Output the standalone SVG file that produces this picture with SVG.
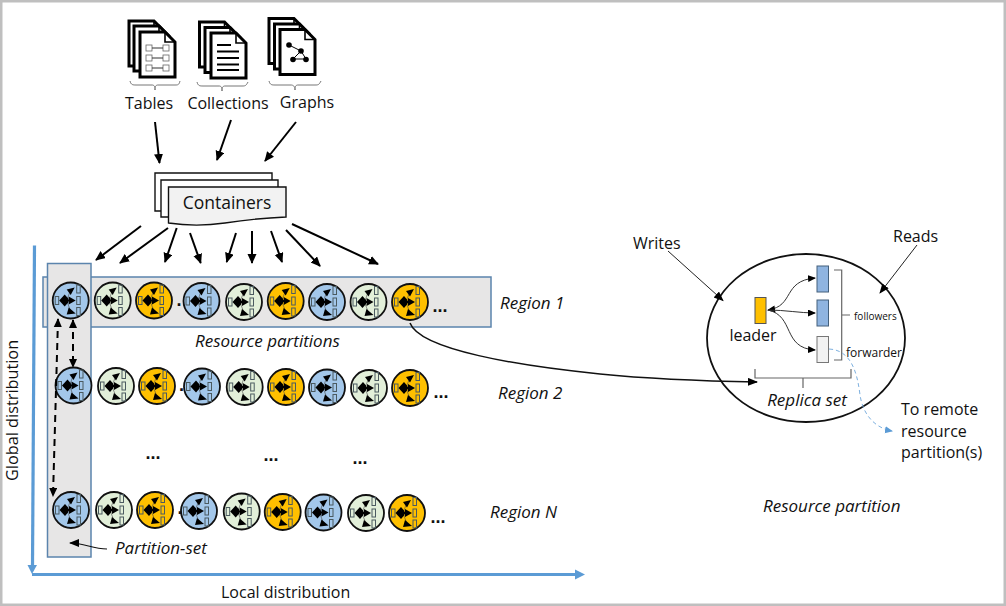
<svg xmlns="http://www.w3.org/2000/svg" width="1006" height="606" viewBox="0 0 1006 606">
<style>
text{font-family:"Open Sans","Noto Sans","Liberation Sans",sans-serif;fill:#111}
.i{font-style:italic}
.m{text-anchor:middle}
.dots{font-family:"Liberation Sans",sans-serif;font-weight:bold;font-size:18px;text-anchor:middle}
.blue{fill:#A3C7EA}.green{fill:#E2EFD9}.orange{fill:#FFC000}
.pc{stroke:#111;stroke-width:1.8}
.r{fill:none;stroke:#4b5a60;stroke-width:1}
.l{fill:none;stroke:#444;stroke-width:.6}
.a{fill:#000;stroke:none}
.doc{fill:#fff;stroke:#000;stroke-width:3}
.doc2{fill:none;stroke:#000;stroke-width:1.600}
.brace{fill:none;stroke:#777;stroke-width:1}
.band{fill:#E7E6E6;stroke:#5B84AD;stroke-width:1.5}
.arr{fill:none;stroke:#000;stroke-width:2;marker-end:url(#ah)}
.thin{fill:none;stroke:#222;stroke-width:1;marker-end:url(#ahs)}
.dash{fill:none;stroke:#000;stroke-width:2;stroke-dasharray:7 5;marker-start:url(#ahsb);marker-end:url(#ahs2)}
.cont{fill:#fff;stroke:#111;stroke-width:1.4}
</style>
<defs>
<marker id="ah" markerUnits="userSpaceOnUse" markerWidth="12" markerHeight="10" refX="9" refY="4.500" orient="auto"><path d="M0,0L10,4.500L0,9z" fill="#000"/></marker>
<marker id="ahs" markerUnits="userSpaceOnUse" markerWidth="12" markerHeight="10" refX="9" refY="4" orient="auto"><path d="M0,0L10,4L0,8z" fill="#000"/></marker>
<marker id="ahs2" markerUnits="userSpaceOnUse" markerWidth="12" markerHeight="10" refX="8" refY="4" orient="auto"><path d="M0,0L9,4L0,8z" fill="#000"/></marker>
<marker id="ahsb" markerUnits="userSpaceOnUse" markerWidth="12" markerHeight="10" refX="1" refY="4" orient="auto"><path d="M9,0L0,4L9,8z" fill="#000"/></marker>
<marker id="ahb" markerUnits="userSpaceOnUse" markerWidth="10" markerHeight="8" refX="7" refY="3.500" orient="auto"><path d="M0,0L8,3.500L0,7z" fill="#5B9BD5"/></marker>
<marker id="aha" markerUnits="userSpaceOnUse" markerWidth="10" markerHeight="8" refX="7" refY="3.500" orient="auto"><path d="M0,0L8,3.500L0,7z" fill="#000"/></marker>
<marker id="ahar" markerUnits="userSpaceOnUse" markerWidth="10" markerHeight="8" refX="1" refY="3.500" orient="auto"><path d="M8,0L0,3.500L8,7z" fill="#000"/></marker>
<g id="part">
<circle class="pc" r="18"/>
<rect class="r" x="-15.500" y="-4" width="3.500" height="8"/>
<rect class="r" x="6" y="-15.500" width="3.500" height="8"/>
<rect class="r" x="6" y="-4" width="3.500" height="8"/>
<rect class="r" x="6" y="7" width="3.500" height="8"/>
<path class="l" d="M-5,0C-2,-2-2,-9 1,-10M-5,0C-2,2-2,9 1,11"/>
<path class="a" d="M-11.500,0L-6,-6L-2.500,-2V2L-6,6z"/>
<path class="a" d="M-3,-1H0V1H-3z"/>
<path class="a" d="M-2,-4L5,0L-2,4z"/>
<path class="a" d="M-4,-11L4,-13L0,-5.500z"/>
<path class="a" d="M-2,7L5,13L-4,14z"/>
</g>
<g id="doc">
<path class="doc" d="M0,0H25L35,10V45H0z"/>
<path class="doc2" d="M25,0V10H35"/>
</g>
</defs>
<rect x="1.250" y="1.250" width="1003.500" height="603.500" fill="#fff" stroke="#BFBFBF" stroke-width="2.500"/>

<g id="node-tables">
<use href="#doc" x="129" y="21"/><use href="#doc" x="134" y="26"/><use href="#doc" x="140" y="32"/>
<g fill="#fff" stroke="#666" stroke-width=".8"><rect x="146" y="45" width="6" height="6"/><rect x="163" y="45" width="6" height="6"/><rect x="146" y="55" width="6" height="6"/><rect x="163" y="55" width="6" height="6"/><rect x="146" y="65" width="6" height="6"/><rect x="163" y="65" width="6" height="6"/></g>
<path d="M152,48H163M152,58H163M152,68H163" stroke="#333" stroke-width="1"/>
<path class="brace" d="M130,81C131,85 133,85 136,85H152C154,85 155,86 155,90C155,86 156,85 158,85H175C178,85 179,85 180,81"/>
<text class="m" x="149" y="109" font-size="16">Tables</text>
</g>
<g id="node-collections">
<use href="#doc" x="199.500" y="22"/><use href="#doc" x="205" y="27.500"/><use href="#doc" x="211" y="33"/>
<path d="M217,45H231M217,51.500H239M217,58H239M217,64.500H239M217,70H239" stroke="#000" stroke-width="1.800"/>
<path class="brace" d="M197,82C198,86 200,86 203,86H219C221,86 222,87 222,91C222,87 223,86 225,86H242C245,86 246,86 248,82"/>
<text class="m" x="228" y="109" font-size="16">Collections</text>
</g>
<g id="node-graphs">
<use href="#doc" x="269" y="18.500"/><use href="#doc" x="274.500" y="24"/><use href="#doc" x="280" y="29.500"/>
<path d="M289,45L301,51L293,59H306L301,51" fill="none" stroke="#000" stroke-width="1"/>
<g fill="#000"><circle cx="289" cy="45" r="2.800"/><circle cx="301" cy="51" r="2.800"/><circle cx="293" cy="59.500" r="2.800"/><circle cx="306" cy="59.500" r="2.800"/></g>
<path class="brace" d="M269,81C270,85 272,85 275,85H291C293,85 295,86 295,90C295,86 296,85 298,85H315C318,85 319,85 321,81"/>
<text class="m" x="307" y="108" font-size="16">Graphs</text>
</g>

<g id="node-containers">
<path class="cont" d="M155,173H272V211H155z"/>
<path class="cont" d="M161,180H278V217H161z"/>
<path class="cont" style="fill:#F2F2F2" d="M168.500,187H286V217C262,218 245,220 225,223C205,226 188,226 168.500,223z"/>
<text class="m" x="227" y="209" font-size="17.500">Containers</text>
</g>

<g id="node-band-1"><rect class="band" x="43" y="277" width="448" height="50"/></g>
<g id="node-partition-set"><rect class="band" x="47.500" y="263.500" width="43.500" height="293.500"/></g>

<g id="axes" fill="none" stroke="#5B9BD5" stroke-width="3.200">
<path d="M34.500,245.500L32.500,566"/>
<path d="M32,574.500H577"/>
<path d="M585,574.500L575,569.500V579.500z" fill="#5B9BD5" stroke="none"/>
<path d="M32,574L27.500,565H37z" fill="#5B9BD5" stroke="none"/>
</g>

<g id="region-1">
<g id="r1p1" class="blue" transform="translate(70.700,300.500)"><use href="#part"/></g>
<g id="r1p2" class="green" transform="translate(112.700,300.500)"><use href="#part"/></g>
<g id="r1p3" class="orange" transform="translate(154,300.500)"><use href="#part"/></g>
<g id="r1p4" class="blue" transform="translate(201.500,301)"><use href="#part"/></g>
<g id="r1p5" class="green" transform="translate(244,302)"><use href="#part"/></g>
<g id="r1p6" class="orange" transform="translate(285.700,301)"><use href="#part"/></g>
<g id="r1p7" class="blue" transform="translate(327,302)"><use href="#part"/></g>
<g id="r1p8" class="green" transform="translate(368.500,302)"><use href="#part"/></g>
<g id="r1p9" class="orange" transform="translate(410,302)"><use href="#part"/></g>
</g>
<g id="region-2">
<g id="r2p1" class="blue" transform="translate(73.500,385.500)"><use href="#part"/></g>
<g id="r2p2" class="green" transform="translate(116,386)"><use href="#part"/></g>
<g id="r2p3" class="orange" transform="translate(157,386)"><use href="#part"/></g>
<g id="r2p4" class="blue" transform="translate(202,386.500)"><use href="#part"/></g>
<g id="r2p5" class="green" transform="translate(244.700,387)"><use href="#part"/></g>
<g id="r2p6" class="orange" transform="translate(286,387)"><use href="#part"/></g>
<g id="r2p7" class="blue" transform="translate(327,387.500)"><use href="#part"/></g>
<g id="r2p8" class="green" transform="translate(369,388)"><use href="#part"/></g>
<g id="r2p9" class="orange" transform="translate(410,388)"><use href="#part"/></g>
</g>
<g id="region-n">
<g id="r3p1" class="blue" transform="translate(71,510)"><use href="#part"/></g>
<g id="r3p2" class="green" transform="translate(114,510)"><use href="#part"/></g>
<g id="r3p3" class="orange" transform="translate(155,510)"><use href="#part"/></g>
<g id="r3p4" class="blue" transform="translate(199,511)"><use href="#part"/></g>
<g id="r3p5" class="green" transform="translate(241.700,511.500)"><use href="#part"/></g>
<g id="r3p6" class="orange" transform="translate(282.700,512)"><use href="#part"/></g>
<g id="r3p7" class="blue" transform="translate(323.500,512.500)"><use href="#part"/></g>
<g id="r3p8" class="green" transform="translate(366,513)"><use href="#part"/></g>
<g id="r3p9" class="orange" transform="translate(407,513)"><use href="#part"/></g>
</g>

<g id="node-replica-set">
<ellipse cx="806" cy="338" rx="99" ry="84" fill="#fff" stroke="#111" stroke-width="1.800"/>
<rect x="755" y="297.500" width="11" height="26" fill="#FFC000" stroke="#555" stroke-width="1"/>
<rect x="817" y="266" width="11.500" height="26" fill="#8FB4E0" stroke="#44607c" stroke-width="1"/>
<rect x="817" y="300" width="11.500" height="26" fill="#8FB4E0" stroke="#44607c" stroke-width="1"/>
<rect x="817" y="336.500" width="11.500" height="26" fill="#F2F2F2" stroke="#777" stroke-width="1"/>
<path d="M834,270H841.700V360H834M841.700,315H850" fill="none" stroke="#666" stroke-width="1.200"/>
<path d="M755,369V378H851V369M803,378V388" fill="none" stroke="#666" stroke-width="1.200"/>
<text class="m" x="753" y="341" font-size="16">leader</text>
<text x="854" y="320" font-size="10">followers</text>
<text x="846" y="357" font-size="12">forwarder</text>
<text class="i m" x="807" y="406" font-size="17">Replica set</text>
</g>

<g id="connectors">
<path class="arr" d="M155,122L159.500,163"/>
<path class="arr" d="M231,120L217,160"/>
<path class="arr" d="M296,122L265,161"/>
<path class="arr" d="M141,226L96,260"/>
<path class="arr" d="M168,228L120,263"/>
<path class="arr" d="M176.700,228L165,262"/>
<path class="arr" d="M190,233L200.700,263"/>
<path class="arr" d="M236,233L226.700,262"/>
<path class="arr" d="M252,231V263"/>
<path class="arr" d="M271,231L282,262"/>
<path class="arr" d="M286,230L320,266"/>
<path class="arr" d="M292,224L378,264"/>
<path class="thin" d="M668,251L723,300.500"/>
<path class="thin" d="M917,245L880,293"/>
<path fill="none" stroke="#111" stroke-width="1.500" marker-end="url(#ahs)" d="M410,323C420,350 520,366 600,374C650,379 700,381 757,382"/>
<path class="dash" d="M58,319L53,496"/>
<path class="dash" d="M73,320V367"/>
<path fill="none" stroke="#111" stroke-width="1.200" marker-end="url(#ahs)" d="M107,549C92,549 85,543 70,543"/>
<g fill="none" stroke="#333" stroke-width="1">
<path marker-start="url(#ahar)" marker-end="url(#aha)" d="M768,310C795,306 782,281 815,278"/>
<path marker-end="url(#aha)" d="M768,310C785,310 800,313 815,313"/>
<path marker-end="url(#aha)" d="M768,310C795,316 782,348 815,350"/>
</g>
<path fill="none" stroke="#7DB0DF" stroke-width="1" stroke-dasharray="4 3" marker-end="url(#ahb)" d="M829,349C850,350 857,370 860,395C863,415 875,428 892,431"/>
</g>

<g id="labels">
<text x="633" y="249" font-size="16">Writes</text>
<text x="893" y="242" font-size="16">Reads</text>
<text class="i" x="500" y="309" font-size="17">Region 1</text>
<text class="i" x="498" y="399" font-size="17">Region 2</text>
<text class="i" x="490" y="518" font-size="17">Region N</text>
<text class="i" x="195" y="347" font-size="17">Resource partitions</text>
<text class="i" x="115" y="554" font-size="17">Partition-set</text>
<text class="i" x="763" y="512" font-size="17">Resource partition</text>
<text x="221" y="598" font-size="16">Local distribution</text>
<text x="901" y="415" font-size="16">To remote</text>
<text x="901" y="437" font-size="16">resource</text>
<text x="901" y="458" font-size="16">partition(s)</text>
<text transform="translate(18,481) rotate(-90)" font-size="16.300">Global distribution</text>
<text class="dots" x="440" y="312">...</text>
<text class="dots" x="441" y="398">...</text>
<text class="dots" x="438" y="523">...</text>
<text class="dots" x="153" y="459">...</text>
<text class="dots" x="271" y="461">...</text>
<text class="dots" x="360" y="464">...</text>
<text class="dots" x="179" y="306">.</text>
<text class="dots" x="181.500" y="391">.</text>
<text class="dots" x="180" y="514">.</text>
</g>
</svg>
